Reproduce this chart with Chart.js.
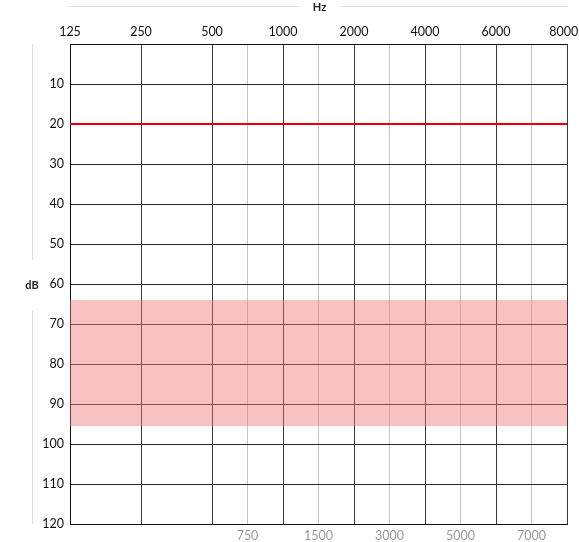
<!DOCTYPE html>
<html>
<head>
<meta charset="utf-8">
<script src="https://cdn.jsdelivr.net/npm/chart.js@4/dist/chart.umd.min.js"></script>
<style>
  html, body { margin: 0; padding: 0; background: #fff; }
  #wrap { width: 579px; height: 542px; }
</style>
</head>
<body>
<div id="wrap"><canvas id="audiogram"></canvas></div>
<script>
// --- DADOS ---
const mainFreqs = ['125', '250', '500', '1000', '2000', '4000', '6000', '8000'];
const midFreqs = ['750', '1500', '3000', '5000', '7000'];
const midSlots = [2.5, 3.5, 4.5, 5.5, 6.5]; // entre 500-1000, 1000-2000, ...
const dbMin = 0;
const dbMax = 120;
const dbStep = 10;
const referenceDb = 20;
const bandTopDb = 64;
const bandBottomDb = 95.5;

const FONT = 'Lato, "Open Sans", sans-serif';
const lastSlot = mainFreqs.length - 1;

// titulos "Hz" e "dB" com as linhas finas ao lado
const axisTitles = {
    id: 'axisTitles',
    afterDraw(chart) {
        const { ctx, chartArea: a } = chart;
        ctx.save();
        ctx.strokeStyle = '#dcdcdc';
        ctx.lineWidth = 1;
        ctx.font = 'bold 11px ' + FONT;
        ctx.fillStyle = '#222';
        ctx.textAlign = 'center';
        ctx.textBaseline = 'middle';

        const cx = (a.left + a.right) / 2 + 1;
        ctx.beginPath();
        ctx.moveTo(a.left - 2, 6.5); ctx.lineTo(cx - 21, 6.5);
        ctx.moveTo(cx + 22, 6.5); ctx.lineTo(a.right + 1, 6.5);
        ctx.stroke();
        ctx.fillText('Hz', cx, 7);

        const cy = (a.top + a.bottom) / 2 + 1;
        ctx.beginPath();
        ctx.moveTo(32.5, a.top); ctx.lineTo(32.5, cy - 25);
        ctx.moveTo(32.5, cy + 25); ctx.lineTo(32.5, a.bottom);
        ctx.stroke();
        ctx.fillText('dB', 32, cy);
        ctx.restore();
    }
};

// sem folga extra para os rótulos das pontas
const fitX = h => s => { s.height = h; s.paddingLeft = 0; s.paddingRight = 0; };

const ctx = document.getElementById('audiogram').getContext('2d');
new Chart(ctx, {
    type: 'line',
    data: {
        datasets: [
            {
                data: [{ x: 0, y: bandTopDb }, { x: lastSlot, y: bandTopDb }],
                borderWidth: 0, pointRadius: 0, fill: false
            },
            {
                data: [{ x: 0, y: bandBottomDb }, { x: lastSlot, y: bandBottomDb }],
                borderWidth: 0, pointRadius: 0,
                fill: '-1', backgroundColor: 'rgba(240, 120, 120, 0.45)'
            },
            {
                data: [{ x: 0, y: referenceDb }, { x: lastSlot, y: referenceDb }],
                borderColor: '#e3000f', borderWidth: 2, pointRadius: 0, fill: false
            }
        ]
    },
    options: {
        responsive: true,
        maintainAspectRatio: false,
        animation: false,
        layout: { padding: { right: 12, left: 0, top: 0, bottom: 0 } },
        plugins: { legend: { display: false }, tooltip: { enabled: false } },
        scales: {
            x: {
                type: 'linear', position: 'top', min: 0, max: lastSlot,
                afterBuildTicks: s => { s.ticks = mainFreqs.map((f, i) => ({ value: i })); },
                afterFit: fitX(44),
                ticks: {
                    // o último rótulo recua um pouco para caber na tela
                    callback: v => (v === lastSlot ? mainFreqs[v] + '\u00a0\u00a0' : mainFreqs[v]),
                    autoSkip: false, maxRotation: 0,
                    padding: 5, color: '#111', font: { family: FONT, size: 12.5 }
                },
                grid: { color: '#3a3a3a', lineWidth: 1, drawTicks: false },
                border: { color: '#111' }
            },
            x2: {
                type: 'linear', position: 'bottom', min: 0, max: lastSlot,
                afterBuildTicks: s => { s.ticks = midSlots.map(v => ({ value: v })); },
                afterFit: fitX(18),
                ticks: {
                    callback: (v, i) => midFreqs[i], autoSkip: false, maxRotation: 0,
                    padding: 4, color: '#999', font: { family: FONT, size: 12.5 }
                },
                grid: { color: '#c4c4c4', lineWidth: 1, drawTicks: false },
                border: { color: '#111' }
            },
            y: {
                reverse: true, min: dbMin, max: dbMax,
                afterFit: s => { s.width = 70; },
                ticks: {
                    stepSize: dbStep,
                    callback: v => (v === dbMin ? '' : v),
                    padding: 6, color: '#111', font: { family: FONT, size: 12.5 }
                },
                grid: { color: '#2a2a2a', lineWidth: 1, drawTicks: false },
                border: { color: '#111' }
            }
        }
    },
    plugins: [axisTitles]
});
</script>
</body>
</html>
